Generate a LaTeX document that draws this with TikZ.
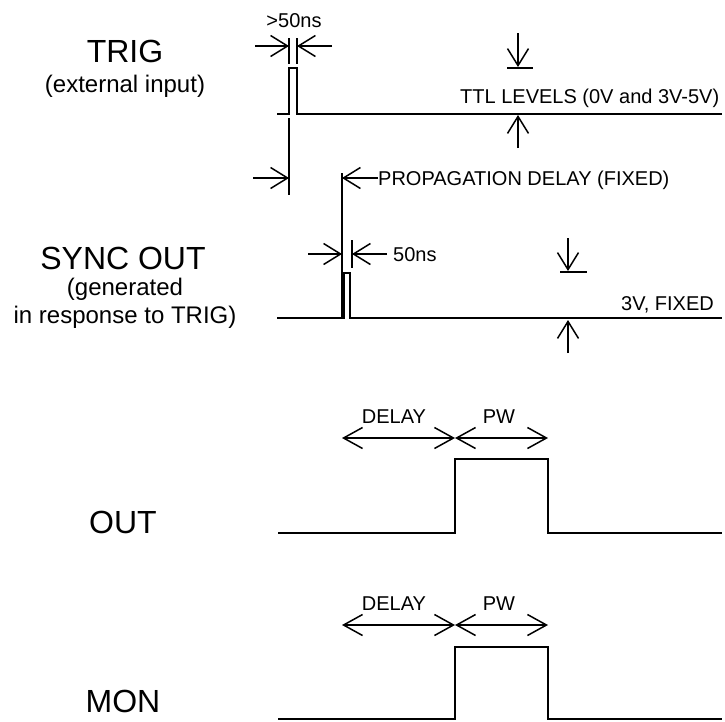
\documentclass[tikz,border=0pt]{standalone}
\usepackage{fontspec}
\setmainfont{Liberation Sans}
\usetikzlibrary{arrows.meta, positioning}

\tikzset{
  wave/.style={line width=2.8pt, line join=miter},
  ext/.style={line width=1.4pt},
  dim/.style={line width=1.5pt, -{Straight Barb[length=17pt, width=21pt]}},
  dimboth/.style={line width=1.5pt, {Straight Barb[length=19pt, width=21pt]}-{Straight Barb[length=19pt, width=21pt]}},
  biglbl/.style={font=\fontsize{32}{36}\selectfont, anchor=base, inner sep=0pt},
  sublbl/.style={font=\fontsize{24}{26}\selectfont, anchor=base, inner sep=0pt},
  smlbl/.style={font=\fontsize{20}{22}\selectfont, anchor=base, inner sep=0pt},
}

\begin{document}
\begin{tikzpicture}[x=1pt, y=-1pt, >=Stealth]
        \useasboundingbox (0,0) rectangle (725,721);

        % signal names
        \node[biglbl] (trig) at (125,62) {TRIG};
        \node[sublbl] (trigsub) at (125,92) {(external input)};
        \node[biglbl] (sync) at (123,269) {SYNC OUT};
        \node[sublbl] (syncsuba) at (125,295) {(generated};
        \node[sublbl] (syncsubb) at (125,323) {in response to TRIG)};
        \node[biglbl] (out) at (123,533) {OUT};
        \node[biglbl] (mon) at (123,712) {MON};

        % TRIG
        \draw[wave] (277,114) -- (289,114) -- (289,68) -- (297,68) -- (297,114) -- (722,114);
        \coordinate (wa) at (289,46);
        \coordinate (wb) at (297,46);
        \draw[ext] (289,38) -- (289,64);
        \draw[ext] (297,38) -- (297,64);
        \draw[dim] (255,46) -- (wa);
        \draw[dim] (332,46) -- (wb);
        \node[smlbl] (wmin) at (294,27) {>50ns};

        \coordinate (ttlhi) at (518,67);
        \coordinate (ttllo) at (518,115);
        \draw[dim] (518,33) -- (ttlhi);
        \draw[ext] (507,68) -- (533,68);
        \draw[dim] (518,148) -- (ttllo);
        \node[smlbl, anchor=base west] (ttl) at (460,103) {TTL LEVELS (0V and 3V-5V)};

        % propagation delay
        \coordinate (pa) at (289,178);
        \coordinate (pb) at (342,178);
        \draw[ext] (289,118) -- (289,195);
        \draw[ext] (342,173) -- (342,318);
        \draw[dim] (253,178) -- (pa);
        \node[smlbl, anchor=base west] (prop) at (378,185) {PROPAGATION DELAY (FIXED)};
        \draw[dim] (prop.west |- pb) -- (pb);

        % SYNC OUT
        \draw[wave] (277,318) -- (344,318) -- (344,273) -- (350,273) -- (350,318) -- (722,318);
        \coordinate (sa) at (342,254);
        \coordinate (sb) at (352,254);
        \draw[ext] (352,240) -- (352,268);
        \draw[dim] (308,254) -- (sa);
        \draw[dim] (387,254) -- (sb);
        \node[smlbl, anchor=base west] (swidth) at (393,261) {50ns};

        \coordinate (fixhi) at (568,271);
        \coordinate (fixlo) at (568,320);
        \draw[dim] (568,238) -- (fixhi);
        \draw[ext] (560,272) -- (587,272);
        \draw[dim] (568,353) -- (fixlo);
        \node[smlbl, anchor=base east] (fix) at (714,310) {3V, FIXED};

        % OUT
        \draw[wave] (278,533) -- (455,533) -- (455,459) -- (548,459) -- (548,533) -- (722,533);
        \coordinate (oa) at (342,438);
        \coordinate (ob) at (455,438);
        \coordinate (oc) at (548,438);
        \draw[dimboth] (oa) -- (ob);
        \draw[dimboth] (ob) -- (oc);
        \node[smlbl] (odelay) at (394,423) {DELAY};
        \node[smlbl] (opw) at (499,423) {PW};

        % MON
        \draw[wave] (278,719) -- (455,719) -- (455,647) -- (548,647) -- (548,719) -- (722,719);
        \coordinate (ma) at (342,625);
        \coordinate (mb) at (455,625);
        \coordinate (mc) at (548,625);
        \draw[dimboth] (ma) -- (mb);
        \draw[dimboth] (mb) -- (mc);
        \node[smlbl] (mdelay) at (394,610) {DELAY};
        \node[smlbl] (mpw) at (499,610) {PW};
      \end{tikzpicture}
\end{document}
